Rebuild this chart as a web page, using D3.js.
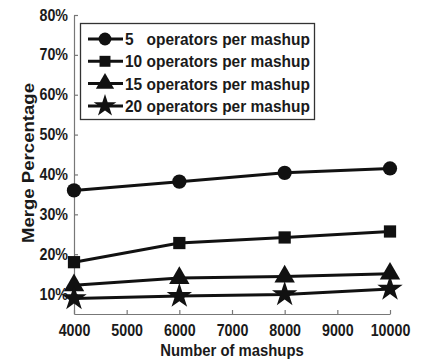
<!DOCTYPE html>
<html><head><meta charset="utf-8">
<script src="https://cdn.jsdelivr.net/npm/d3@7"></script>
<style>
body{margin:0;background:#fff;}
text{font-family:"Liberation Sans",Arial,sans-serif;font-weight:bold;fill:#1a1a1a;}
</style></head>
<body><svg id="c" width="422" height="364"></svg>
<script>
const xValues = [4000, 6000, 8000, 10000];
const seriesNames = ["5   operators per mashup", "10 operators per mashup", "15 operators per mashup", "20 operators per mashup"];
const s5  = [36.0, 38.2, 40.4, 41.5];
const s10 = [18.0, 22.8, 24.2, 25.7];
const s15 = [12.2, 14.0, 14.4, 15.1];
const s20 = [8.9, 9.5, 9.9, 11.3];
const xTicks = [4000, 5000, 6000, 7000, 8000, 9000, 10000];
const yTicks = [10, 20, 30, 40, 50, 60, 70, 80];
const symbols = [d3.symbolCircle, d3.symbolSquare, d3.symbolTriangle, d3.symbolStar];
const symSizes = [160, 150, 180, 200];
const series = [s5, s10, s15, s20];

function condense(sel, f){
  sel.each(function(){
    const w = this.getComputedTextLength();
    d3.select(this).attr("textLength", w*f).attr("lengthAdjust","spacingAndGlyphs");
  });
}

const svg = d3.select("#c");
const x = d3.scaleLinear().domain([4000, 10000]).range([74, 390]);
const y = d3.scaleLinear().domain([5, 80]).range([314, 15]);

const xAxis = svg.append("g").attr("transform","translate(0,314)")
  .call(d3.axisBottom(x).tickValues(xTicks).tickFormat(d3.format("d")).tickSizeInner(-4).tickSizeOuter(0).tickPadding(10));
const yAxis = svg.append("g").attr("transform","translate(74,0)")
  .call(d3.axisLeft(y).tickValues(yTicks).tickFormat(d=>d+"%").tickSizeInner(-4).tickSizeOuter(0).tickPadding(6));
[xAxis,yAxis].forEach(g=>{
  g.select(".domain").attr("stroke","#777").attr("stroke-width",1.2);
  g.selectAll(".tick line").attr("stroke","#777").attr("stroke-width",1.2);
  g.selectAll(".tick text").attr("font-size","16px").attr("fill","#1a1a1a");
  condense(g.selectAll(".tick text"), 0.89);
});
xAxis.selectAll(".tick text").attr("dy","0.75em");

const xl = svg.append("text").attr("x",232).attr("y",356).attr("text-anchor","middle")
  .attr("font-size","16.5px").text("Number of mashups");
condense(xl, 0.9);
svg.append("text").attr("transform","translate(34,163) rotate(-90)").attr("text-anchor","middle")
  .attr("font-size","16.5px").attr("textLength",160).attr("lengthAdjust","spacingAndGlyphs").text("Merge Percentage");

const line = d3.line().x((d,i)=>x(xValues[i])).y(d=>y(d));
series.forEach((s,k)=>{
  svg.append("path").datum(s).attr("d",line).attr("fill","none").attr("stroke","#111").attr("stroke-width",3);
  svg.selectAll(null).data(s).enter().append("path")
    .attr("d", d3.symbol().type(symbols[k]).size(symSizes[k]))
    .attr("transform",(d,i)=>`translate(${x(xValues[i])},${y(d)})`)
    .attr("fill","#111");
});

// legend
const lg = svg.append("g");
lg.append("rect").attr("x",80.5).attr("y",23.5).attr("width",234).attr("height",96)
  .attr("fill","#fff").attr("stroke","#333").attr("stroke-width",1.3);
seriesNames.forEach((n,k)=>{
  const cy = 39 + k*22.3;
  lg.append("line").attr("x1",88).attr("x2",123).attr("y1",cy).attr("y2",cy).attr("stroke","#111").attr("stroke-width",3);
  lg.append("path").attr("d", d3.symbol().type(symbols[k]).size(symSizes[k]*0.8))
    .attr("transform",`translate(105,${cy})`).attr("fill","#111");
  const t = lg.append("text").attr("x",125).attr("y",cy+6).attr("font-size","17px")
    .attr("xml:space","preserve").style("white-space","pre").text(n);
  condense(t, 0.91);
});
</script></body></html>
